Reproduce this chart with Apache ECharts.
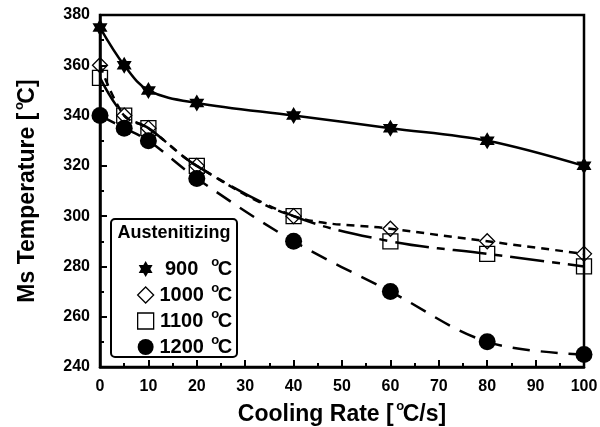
<!DOCTYPE html>
<html>
<head>
<meta charset="utf-8">
<script src="https://cdn.jsdelivr.net/npm/echarts@6/dist/echarts.min.js"></script>
<style>
  html, body { margin: 0; padding: 0; background: #fff; }
  #chart { width: 600px; height: 427px; }
</style>
</head>
<body>
<div id="chart"></div>
<script>
// data
const coolingRates = [0, 5, 10, 20, 40, 60, 80, 100]
const ms900 = [375, 360, 350, 345, 340, 335, 330, 320]
const ms1000 = [360, 340, 335, 320, 300, 295, 290, 285]
const ms1100 = [355, 340, 335, 320, 300, 290, 285, 280]
const ms1200 = [340, 335, 330, 315, 290, 270, 250, 245]
const xTicks = [0, 10, 20, 30, 40, 50, 60, 70, 80, 90, 100]
const yTicks = [240, 260, 280, 300, 320, 340, 360, 380]

const font = 'Liberation Sans, Arial, sans-serif'
const starPath = 'path://M0,-10 L2.887,-5 L8.66,-5 L5.774,0 L8.66,5 L2.887,5 L0,10 L-2.887,5 L-8.66,5 L-5.774,0 L-8.66,-5 L-2.887,-5 Z'

const pairs = arr => coolingRates.map((x, i) => [x, arr[i]])

const hollow = { color: 'rgba(0,0,0,0)', borderColor: '#000', borderWidth: 1.3 }
const solid = { color: '#000' }

const seriesDefs = [
  { name: '900', data: ms900, symbol: starPath, size: [15, 17], item: solid, dash: 'solid' },
  { name: '1000', data: ms1000, symbol: 'diamond', size: 15, item: hollow, dash: [8, 6] },
  { name: '1100', data: ms1100, symbol: 'rect', size: 15, item: hollow, dash: [34, 8, 8, 8] },
  { name: '1200', data: ms1200, symbol: 'circle', size: 17, item: solid, dash: [17, 11] }
]

const chart = echarts.init(document.getElementById('chart'))

// 上标 o
const supStyle = { fontFamily: font, fontWeight: 'bold', fontSize: 13, color: '#000', verticalAlign: 'top', lineHeight: 12, width: 5 }

const axisCommon = {
  axisLine: { lineStyle: { color: '#000', width: 2.5 } },
  axisTick: { inside: true, length: 7, lineStyle: { color: '#000', width: 2 } },
  minorTick: { show: true, splitNumber: 2, length: 4, lineStyle: { color: '#000', width: 2 } },
  splitLine: { show: false },
  axisLabel: { color: '#000', fontFamily: font, fontWeight: 'bold', fontSize: 16 },
  nameTextStyle: {
    color: '#000', fontFamily: font, fontWeight: 'bold', fontSize: 23, lineHeight: 30,
    rich: {
      s: { ...supStyle, padding: [0, 0, 0, 4] },
      t: { fontFamily: font, fontWeight: 'bold', fontSize: 23, lineHeight: 30, color: '#000' }
    }
  }
}

chart.setOption({
  animation: false,
  grid: {
    left: 100, right: 16, top: 15, bottom: 60,
    outerBoundsMode: 'none',
    show: true, borderColor: '#000', borderWidth: 2.5
  },
  xAxis: {
    type: 'value', min: xTicks[0], max: xTicks[xTicks.length - 1], interval: 10,
    name: '{t|Cooling Rate [}{s|o}{t|C/s]}', nameLocation: 'middle', nameGap: 26,
    ...axisCommon,
    axisLabel: { ...axisCommon.axisLabel, margin: 12 }
  },
  yAxis: {
    type: 'value', min: yTicks[0], max: yTicks[yTicks.length - 1], interval: 20,
    name: '{t|Ms Temperature [}{s|o}{t|C]}', nameLocation: 'middle', nameGap: 57, nameRotate: 90,
    ...axisCommon,
    axisLabel: { ...axisCommon.axisLabel, margin: 10 }
  },
  graphic: [
    {
      type: 'rect', z: 10,
      shape: { x: 111, y: 219, width: 126, height: 138, r: 4 },
      style: { fill: '#fff', stroke: '#000', lineWidth: 2 }
    },
    {
      type: 'text', z: 11, x: 174, y: 233,
      style: {
        text: 'Austenitizing', fill: '#000', font: 'bold 18px ' + font,
        textAlign: 'center', textVerticalAlign: 'middle'
      }
    }
  ],
  legend: {
    z: 12, orient: 'vertical', left: 132, top: 251,
    itemWidth: 16, itemHeight: 16, itemGap: 0,
    data: seriesDefs.map(s => ({
      name: s.name,
      icon: s.symbol,
      itemStyle: s.item
    })),
    formatter: name => `{n|${name}}{s|o}{c|C}`,
    textStyle: {
      color: '#000', fontFamily: font, fontWeight: 'bold', fontSize: 20, lineHeight: 26,
      rich: {
        n: { width: 46, align: 'right', fontFamily: font, fontWeight: 'bold', fontSize: 20, lineHeight: 26 },
        s: { ...supStyle, padding: [0, 0, 0, 8] },
        c: { fontFamily: font, fontWeight: 'bold', fontSize: 20, lineHeight: 26 }
      }
    }
  },
  series: seriesDefs.map(s => ({
    name: s.name,
    type: 'line',
    data: pairs(s.data),
    smooth: 0.35,
    symbol: s.symbol,
    symbolSize: s.size,
    itemStyle: s.item,
    lineStyle: { color: '#000', width: 2.5, type: s.dash },
    clip: false
  }))
})
</script>
</body>
</html>
